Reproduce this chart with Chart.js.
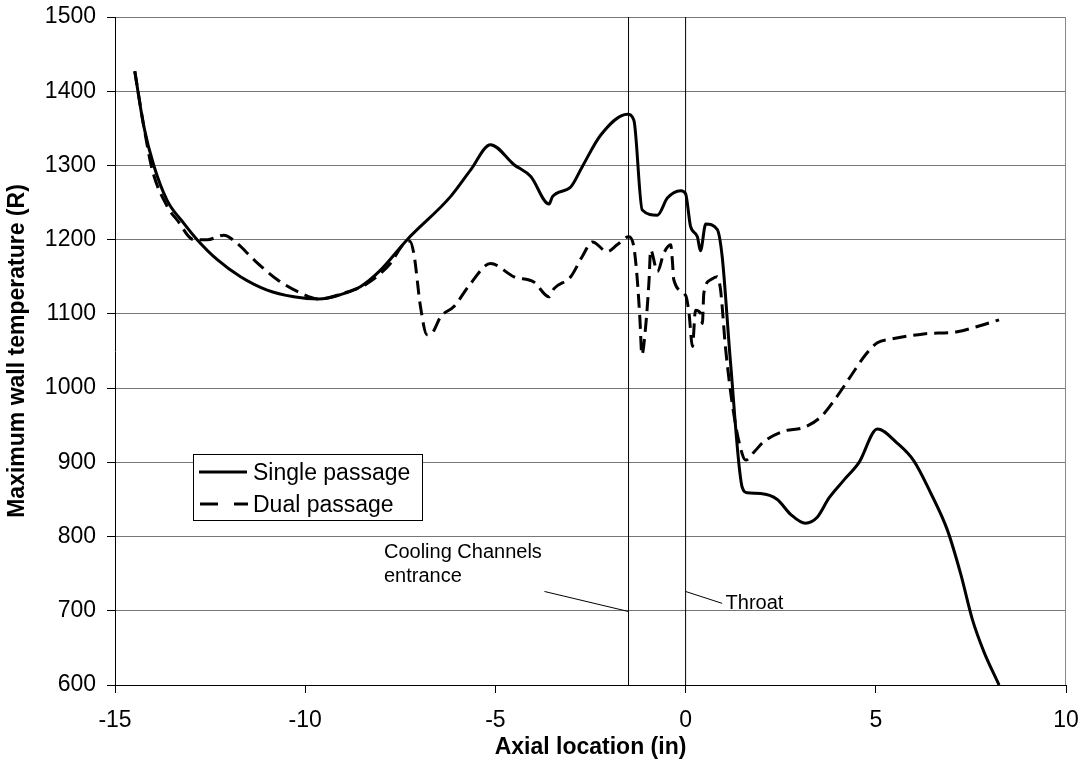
<!DOCTYPE html>
<html>
<head>
<meta charset="utf-8">
<script src="https://cdn.jsdelivr.net/npm/chart.js@4.4.0/dist/chart.umd.min.js"></script>
<style>
  html, body { margin: 0; padding: 0; background: #fff; }
</style>
</head>
<body>
<canvas id="myChart" width="1084" height="768"></canvas>
<script>
// axial location (in) and max wall temperature (R)
const singleX = [-14.48, -14.24, -13.98, -13.63, -13.19, -12.84, -12.31, -11.70, -11.00, -10.30, -9.64,
  -9.07, -8.54, -8.02, -7.32, -6.18, -5.65, -5.13, -4.51, -4.07, -3.59, -3.50, -3.02, -2.72, -2.23,
  -1.53, -1.36, -1.14, -0.74, -0.48, -0.13, 0.00, 0.13, 0.31, 0.39, 0.53, 0.83, 0.96, 1.18, 1.49,
  1.62, 1.97, 2.41, 2.76, 3.15, 3.46, 3.77, 4.16, 4.56, 5.04, 5.56, 6.00, 6.44, 6.88, 7.23, 7.54, 7.84, 8.24];
const singleT = [1427, 1352, 1300, 1253, 1222, 1200, 1173, 1150, 1132, 1123, 1120,
  1126, 1137, 1159, 1200, 1258, 1294, 1328, 1301, 1285, 1248, 1258, 1271, 1298, 1341,
  1369, 1361, 1240, 1233, 1256, 1266, 1262, 1218, 1204, 1185, 1221, 1214, 1178, 1035, 866,
  859, 858, 850, 830, 818, 826, 852, 876, 900, 945, 926, 902, 859, 809, 750, 688, 645, 600];

const dualX = [-14.48, -14.24, -14.02, -13.63, -13.36, -12.93, -12.57, -12.14, -11.79, -11.35, -10.73,
  -10.12, -9.64, -8.98, -8.37, -7.76, -7.40, -7.25, -7.14, -6.97, -6.80, -6.65, -6.44, -6.09, -5.65,
  -5.13, -4.51, -3.99, -3.59, -3.46, -3.02, -2.72, -2.45, -2.06, -1.80, -1.49, -1.36, -1.27, -1.20,
  -1.15, -1.05, -0.96, -0.92, -0.74, -0.57, -0.39, -0.35, -0.31, 0.00, 0.09, 0.18, 0.26, 0.39, 0.44,
  0.48, 0.66, 0.83, 0.92, 1.05, 1.27, 1.49, 1.58, 1.80, 2.06, 2.58, 3.11, 3.55, 3.90, 4.34, 4.73,
  5.04, 5.39, 6.26, 7.14, 7.67, 8.24];
const dualT = [1427, 1352, 1294, 1245, 1226, 1200, 1200, 1206, 1195, 1173, 1146,
  1128, 1120, 1128, 1141, 1168, 1195, 1198, 1180, 1110, 1072, 1075, 1096, 1110, 1141,
  1168, 1150, 1143, 1123, 1134, 1150, 1177, 1197, 1184, 1193, 1204, 1190, 1146, 1092,
  1045, 1083, 1146, 1186, 1157, 1182, 1193, 1173, 1146, 1125, 1101, 1056, 1105, 1101, 1087,
  1128, 1146, 1150, 1132, 1054, 964, 911, 903, 914, 928, 942, 947, 961, 983, 1016, 1045,
  1061, 1066, 1073, 1076, 1083, 1092];

const seriesNames = ['Single passage', 'Dual passage'];
const xMin = -15, xMax = 10, xStep = 5;
const yMin = 600, yMax = 1500, yStep = 100;

// reference lines: cooling channels entrance and throat
const markerX = [-1.5, 0];
const coolingLabel = ['Cooling Channels', 'entrance'];
const coolingLabelPos = [-7.93, 771.5, 738.4];   // x, baseline T of line 1, line 2
const coolingLeader = [[-3.71, 726], [-1.5, 699]];
const throatLabel = 'Throat';
const throatLabelPos = [1.05, 702.4];
const throatLeader = [[0, 726], [0.96, 710]];

const FONT = "'Liberation Sans', Arial, sans-serif";

const toPts = (xs, ys) => xs.map((x, i) => ({ x: x, y: ys[i] }));

const thinLine = (pts) => ({
  data: pts, showLine: true, borderColor: '#000', borderWidth: 1,
  pointRadius: 0, tension: 0, fill: false
});

const overlayPlugin = {
  id: 'overlay',
  afterDraw(chart) {
    const ctx = chart.ctx;
    const area = chart.chartArea;
    const xs = chart.scales.x, ys = chart.scales.y;
    ctx.save();
    // right edge of plot area
    ctx.strokeStyle = '#888';
    ctx.lineWidth = 1;
    ctx.beginPath();
    ctx.moveTo(Math.round(area.right) - 0.5, area.top);
    ctx.lineTo(Math.round(area.right) - 0.5, area.bottom);
    ctx.stroke();

    // annotation texts
    ctx.fillStyle = '#000';
    ctx.font = '20px ' + FONT;
    ctx.textAlign = 'left';
    ctx.textBaseline = 'alphabetic';
    const cx = xs.getPixelForValue(coolingLabelPos[0]);
    ctx.fillText(coolingLabel[0], cx, ys.getPixelForValue(coolingLabelPos[1]));
    ctx.fillText(coolingLabel[1], cx, ys.getPixelForValue(coolingLabelPos[2]));
    ctx.fillText(throatLabel, xs.getPixelForValue(throatLabelPos[0]), ys.getPixelForValue(throatLabelPos[1]));

    // legend box
    const lx = 193, ly = 454, lw = 229, lh = 66;
    ctx.fillStyle = '#fff';
    ctx.fillRect(lx, ly, lw, lh);
    ctx.strokeStyle = '#000';
    ctx.lineWidth = 1;
    ctx.strokeRect(lx + 0.5, ly + 0.5, lw, lh);
    ctx.lineWidth = 3;
    ctx.beginPath();
    ctx.moveTo(199, 472); ctx.lineTo(247, 472);
    ctx.stroke();
    ctx.setLineDash([18, 16]);
    ctx.beginPath();
    ctx.moveTo(200, 504); ctx.lineTo(248, 504);
    ctx.stroke();
    ctx.setLineDash([]);
    ctx.fillStyle = '#000';
    ctx.font = '23px ' + FONT;
    ctx.fillText(seriesNames[0], 253, 480);
    ctx.fillText(seriesNames[1], 253, 512);
    ctx.restore();
  }
};

const ctx = document.getElementById('myChart').getContext('2d');
const myChart = new Chart(ctx, {
  type: 'scatter',
  data: {
    datasets: [
      thinLine([{ x: markerX[0], y: yMin }, { x: markerX[0], y: yMax }]),
      thinLine([{ x: markerX[1], y: yMin }, { x: markerX[1], y: yMax }]),
      thinLine(coolingLeader.map(p => ({ x: p[0], y: p[1] }))),
      thinLine(throatLeader.map(p => ({ x: p[0], y: p[1] }))),
      {
        label: seriesNames[0],
        data: toPts(singleX, singleT),
        showLine: true, borderColor: '#000', borderWidth: 3,
        pointRadius: 0, cubicInterpolationMode: 'monotone', fill: false
      },
      {
        label: seriesNames[1],
        data: toPts(dualX, dualT),
        showLine: true, borderColor: '#000', borderWidth: 3, borderDash: [14, 7],
        pointRadius: 0, cubicInterpolationMode: 'monotone', fill: false
      }
    ]
  },
  options: {
    responsive: false,
    animation: false,
    layout: { padding: { top: 17, right: 18, left: 0, bottom: 0 } },
    plugins: {
      legend: { display: false },
      tooltip: { enabled: false }
    },
    scales: {
      x: {
        type: 'linear', min: xMin, max: xMax,
        afterFit: s => { s.height = 83; s.paddingLeft = 0; s.paddingRight = 0; },
        ticks: { stepSize: xStep, color: '#000', font: { family: FONT, size: 23 }, padding: 14,
                 callback: v => String(v) },
        grid: { drawOnChartArea: false, tickLength: 8, color: '#000' },
        border: { color: '#000', width: 1 },
        title: { display: true, text: 'Axial location (in)', color: '#000',
                 font: { family: FONT, size: 23, weight: 'bold' }, padding: { top: 0, bottom: 7 } }
      },
      y: {
        type: 'linear', min: yMin, max: yMax,
        afterFit: s => { s.width = 115; s.paddingTop = 0; s.paddingBottom = 0; },
        ticks: { stepSize: yStep, color: '#000', font: { family: FONT, size: 23 }, padding: 11,
                 callback: v => String(v) },
        grid: { color: '#777', tickColor: '#000', tickLength: 8 },
        border: { color: '#000', width: 1 },
        title: { display: true, text: 'Maximum wall temperature (R)', color: '#000',
                 font: { family: FONT, size: 23, weight: 'bold' }, padding: { top: 4, bottom: 0 } }
      }
    }
  },
  plugins: [overlayPlugin]
});
</script>
</body>
</html>
